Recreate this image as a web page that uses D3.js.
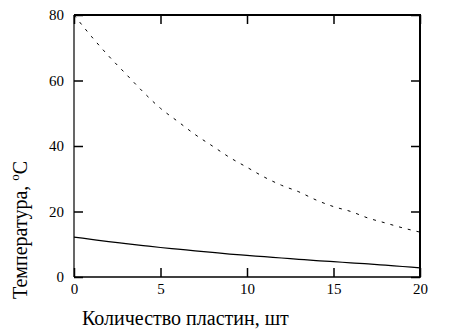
<!DOCTYPE html>
<html>
<head>
<meta charset="utf-8">
<script src="https://cdn.jsdelivr.net/npm/d3@7"></script>
<style>
  body { margin: 0; background: #fff; }
  text { font-family: "Liberation Serif", "Times New Roman", serif; fill: #000; }
</style>
</head>
<body>
<div id="main"></div>
<script>
/* Size */
const width = 451, height = 335;
const margin = {left: 74, right: 30, top: 15, bottom: 58};

/* Data */
const plates = d3.range(0, 21);
const tempDashed = [80, 73.5, 67.5, 62, 56.5, 51.5, 47.5, 43.5, 40, 36.5, 33.5,
  30.5, 28, 26, 23.5, 21.5, 20, 18, 16.5, 15, 13.7];
const tempSolid = [12.2, 11.5, 10.8, 10.2, 9.6, 9.0, 8.5, 8.0, 7.5, 7.0, 6.6,
  6.2, 5.8, 5.4, 5.0, 4.7, 4.3, 4.0, 3.6, 3.2, 2.8];
const xTicks = [0, 5, 10, 15, 20];
const yTicks = [0, 20, 40, 60, 80];
const xTitle = "Количество пластин, шт";

const svg = d3.select("#main").append("svg")
  .attr("width", width).attr("height", height);

const x = d3.scaleLinear().domain([0, 20]).range([margin.left, width - margin.right - 1]);
const y = d3.scaleLinear().domain([0, 80]).range([height - margin.bottom, margin.top]);

/* frame */
const x0 = x(0), x1 = x(20), y0 = y(0), y1 = y(80);
svg.append("line").attr("x1", x0).attr("x2", x0).attr("y1", y1).attr("y2", y0)
  .attr("stroke", "#000").attr("stroke-width", 1.2);
svg.append("line").attr("x1", x0).attr("x2", x1 + 1).attr("y1", y0).attr("y2", y0)
  .attr("stroke", "#000").attr("stroke-width", 1.5);
svg.append("line").attr("x1", x0).attr("x2", x1 + 1).attr("y1", y1).attr("y2", y1)
  .attr("stroke", "#000").attr("stroke-width", 2);
svg.append("line").attr("x1", x1).attr("x2", x1).attr("y1", y1).attr("y2", y0)
  .attr("stroke", "#000").attr("stroke-width", 2);

/* axes: ticks inward */
const axB = svg.append("g").attr("transform", `translate(0,${y0})`)
  .call(d3.axisBottom(x).tickValues(xTicks).tickSizeInner(-9).tickSizeOuter(0).tickPadding(6));
const axT = svg.append("g").attr("transform", `translate(0,${y1})`)
  .call(d3.axisTop(x).tickValues(xTicks).tickSizeInner(-9).tickSizeOuter(0).tickFormat(""));
const axL = svg.append("g").attr("transform", `translate(${x0},0)`)
  .call(d3.axisLeft(y).tickValues(yTicks).tickSizeInner(-9).tickSizeOuter(0).tickPadding(10));
const axR = svg.append("g").attr("transform", `translate(${x1},0)`)
  .call(d3.axisRight(y).tickValues(yTicks).tickSizeInner(-9).tickSizeOuter(0).tickFormat(""));

[axB, axT, axL, axR].forEach(g => {
  g.select(".domain").remove();
  g.attr("font-family", "Liberation Serif, serif").attr("font-size", 15);
  g.selectAll(".tick line").attr("stroke", "#000").attr("stroke-width", 1.5);
  g.selectAll("text").style("font-family", "'Liberation Serif', serif").style("font-size", "15px");
});

/* curves */
const line = d3.line().x((d, i) => x(plates[i])).y(d => y(d)).curve(d3.curveMonotoneX);
svg.append("path").datum(tempDashed).attr("d", line)
  .attr("fill", "none").attr("stroke", "#000").attr("stroke-width", 1)
  .attr("stroke-dasharray", "3,6");
svg.append("path").datum(tempSolid).attr("d", line)
  .attr("fill", "none").attr("stroke", "#000").attr("stroke-width", 1.2);

/* titles */
svg.append("text").attr("x", 82).attr("y", 325)
  .style("font-size", "20px").text(xTitle);

const yt = svg.append("text")
  .attr("transform", `translate(27,299) rotate(-90)`)
  .style("font-size", "20px");
yt.append("tspan").text("Температура, ");
yt.append("tspan").attr("dy", -8).style("font-size", "13px").text("o");
yt.append("tspan").attr("dy", 8).text("C");
</script>
</body>
</html>
